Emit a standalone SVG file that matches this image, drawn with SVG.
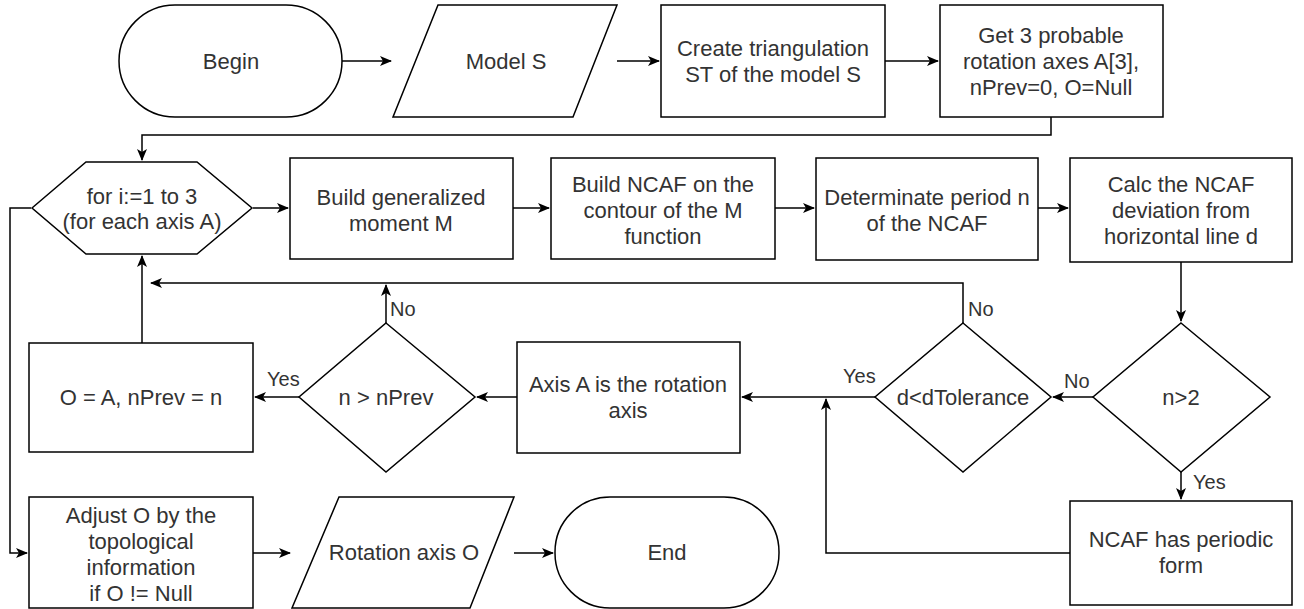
<svg xmlns="http://www.w3.org/2000/svg" width="1304" height="609" viewBox="0 0 1304 609">
<defs>
<marker id="arr" viewBox="0 0 12 10" refX="11" refY="5" markerWidth="12" markerHeight="10" markerUnits="userSpaceOnUse" orient="auto">
<path d="M0,0 L12,5 L0,10 L3,5 z" fill="#000"/>
</marker>
<style>
.n{fill:#fff;stroke:#000;stroke-width:1.5}
.t{font-family:"Liberation Sans",Arial,sans-serif;font-size:22px;fill:#333;text-anchor:middle}
.l{font-family:"Liberation Sans",Arial,sans-serif;font-size:20px;fill:#333}
.c{fill:none;stroke:#000;stroke-width:1.5}
.a{marker-end:url(#arr)}
</style>
</defs>
<rect width="1304" height="609" fill="#fff"/>
<g id="connectors">
<path class="c a" d="M342,61 H391"/>
<path class="c a" d="M617,61 H659"/>
<path class="c a" d="M885,61 H938"/>
<path class="c a" d="M1051,117 V135 H142 V160"/>
<path class="c a" d="M253,208 H288"/>
<path class="c a" d="M513,208 H549"/>
<path class="c a" d="M775,208 H814"/>
<path class="c a" d="M1038,208 H1068"/>
<path class="c a" d="M1181,262 V321"/>
<path class="c a" d="M1093,397 H1053"/>
<path class="c a" d="M963,323 V283 H151"/>
<path class="c a" d="M875,397 H742"/>
<path class="c a" d="M1070,553 H826 V399"/>
<path class="c a" d="M1181,472 V499"/>
<path class="c a" d="M517,397 H477"/>
<path class="c a" d="M386,323 V285"/>
<path class="c a" d="M299,397 H255"/>
<path class="c a" d="M142,343 V256"/>
<path class="c a" d="M31,208 H10 V553 H27"/>
<path class="c a" d="M253,553 H290"/>
<path class="c a" d="M514,553 H553"/>
<text class="l" x="1064" y="388">No</text>
<text class="l" x="968" y="316">No</text>
<text class="l" x="843" y="383">Yes</text>
<text class="l" x="1193" y="489">Yes</text>
<text class="l" x="390" y="316">No</text>
<text class="l" x="267" y="386">Yes</text>
</g>
<g id="begin"><rect class="n" x="119" y="5" width="223" height="112" rx="56" ry="56"/><text class="t" x="231" y="69">Begin</text></g>
<g id="model"><polygon class="n" points="438,5 617,5 573,117 393,117"/><text class="t" x="506" y="69">Model S</text></g>
<g id="create"><rect class="n" x="661" y="5" width="224" height="112"/><text class="t" x="773" y="56">Create triangulation</text><text class="t" x="773" y="82">ST of the model S</text></g>
<g id="get"><rect class="n" x="940" y="5" width="223" height="112"/><text class="t" x="1051" y="43">Get 3 probable</text><text class="t" x="1051" y="69">rotation axes A[3],</text><text class="t" x="1051" y="95">nPrev=0, O=Null</text></g>
<g id="loop"><polygon class="n" points="32,208 86,162 197,162 252,208 197,254 86,254"/><text class="t" x="142" y="204">for i:=1 to 3</text><text class="t" x="142" y="229">(for each axis A)</text></g>
<g id="moment"><rect class="n" x="290" y="158" width="223" height="101"/><text class="t" x="401" y="205">Build generalized</text><text class="t" x="401" y="231">moment M</text></g>
<g id="ncaf"><rect class="n" x="551" y="158" width="224" height="101"/><text class="t" x="663" y="192">Build NCAF on the</text><text class="t" x="663" y="218">contour of the M</text><text class="t" x="663" y="244">function</text></g>
<g id="period"><rect class="n" x="816" y="158" width="222" height="102"/><text class="t" x="927" y="205">Determinate period n</text><text class="t" x="927" y="231">of the NCAF</text></g>
<g id="calc"><rect class="n" x="1070" y="158" width="222" height="104"/><text class="t" x="1181" y="192">Calc the NCAF</text><text class="t" x="1181" y="218">deviation from</text><text class="t" x="1181" y="244">horizontal line d</text></g>
<g id="n2"><polygon class="n" points="1181,323 1270,397 1181,472 1093,397"/><text class="t" x="1181" y="405">n&gt;2</text></g>
<g id="dtol"><polygon class="n" points="963,323 1051,397 963,472 875,397"/><text class="t" x="963" y="405">d&lt;dTolerance</text></g>
<g id="axis"><rect class="n" x="517" y="342" width="223" height="111"/><text class="t" x="628" y="392">Axis A is the rotation</text><text class="t" x="628" y="418">axis</text></g>
<g id="nprev"><polygon class="n" points="386,323 475,397 386,472 299,397"/><text class="t" x="386" y="405">n &gt; nPrev</text></g>
<g id="assign"><rect class="n" x="29" y="343" width="224" height="109"/><text class="t" x="141" y="405">O = A, nPrev = n</text></g>
<g id="adjust"><rect class="n" x="29" y="497" width="224" height="111"/><text class="t" x="141" y="523">Adjust O by the</text><text class="t" x="141" y="549">topological</text><text class="t" x="141" y="575">information</text><text class="t" x="141" y="601">if O != Null</text></g>
<g id="result"><polygon class="n" points="339,497 514,497 470,608 292,608"/><text class="t" x="404" y="560">Rotation axis O</text></g>
<g id="end"><rect class="n" x="555" y="497" width="224" height="111" rx="55" ry="55"/><text class="t" x="667" y="560">End</text></g>
<g id="periodic"><rect class="n" x="1070" y="501" width="222" height="104"/><text class="t" x="1181" y="547">NCAF has periodic</text><text class="t" x="1181" y="573">form</text></g>
</svg>
